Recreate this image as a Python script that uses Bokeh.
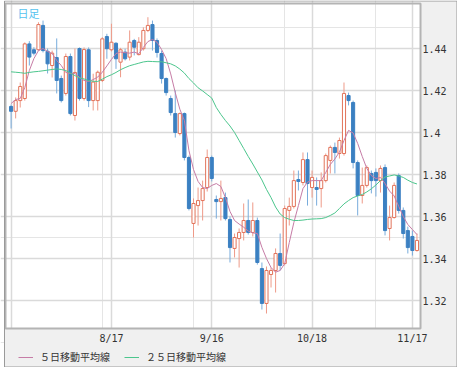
from bokeh.plotting import figure
from bokeh.models import (ColumnDataSource, FixedTicker, Legend, LegendItem, Label,
                          BoxAnnotation, Grid)
from bokeh.core.properties import value
from bokeh.embed import file_html
from bokeh.resources import INLINE

# Daily candles (EUR/USD style), one per trading day
opens = [1.4124, 1.4101, 1.4152, 1.4162, 1.4422, 1.4394, 1.4394, 1.4510, 1.4387, 1.4319,
         1.4357, 1.4257, 1.4186, 1.4362, 1.4081, 1.4400, 1.4162, 1.4394, 1.4152, 1.4152,
         1.4248, 1.4457, 1.4394, 1.4425, 1.4335, 1.4383, 1.4359, 1.4438, 1.4371, 1.4399,
         1.4486, 1.4514, 1.4438, 1.4376, 1.4257, 1.4162, 1.4090, 1.3995, 1.4090, 1.3881,
         1.3567, 1.3652, 1.3676, 1.3738, 1.3881, 1.3681, 1.3671, 1.3690, 1.3586, 1.3448,
         1.3495, 1.3524, 1.3581, 1.3524, 1.3581, 1.3352, 1.3186, 1.3324, 1.3343, 1.3424,
         1.3376, 1.3629, 1.3648, 1.3776, 1.3762, 1.3871, 1.3738, 1.3738, 1.3733, 1.3771,
         1.3867, 1.3929, 1.3900, 1.3900, 1.4176, 1.4143, 1.3857, 1.3700, 1.3748, 1.3805,
         1.3810, 1.3771, 1.3833, 1.3543, 1.3595, 1.3795, 1.3629, 1.3533, 1.3505, 1.3438]
highs = [1.4133, 1.4167, 1.4238, 1.4429, 1.4435, 1.4406, 1.4525, 1.4533, 1.4400, 1.4390,
         1.4448, 1.4271, 1.4376, 1.4376, 1.4400, 1.4405, 1.4405, 1.4405, 1.4280, 1.4295,
         1.4454, 1.4470, 1.4518, 1.4430, 1.4403, 1.4399, 1.4486, 1.4446, 1.4454, 1.4501,
         1.4549, 1.4533, 1.4448, 1.4390, 1.4262, 1.4176, 1.4200, 1.4095, 1.4095, 1.3890,
         1.3686, 1.3738, 1.3771, 1.3919, 1.3890, 1.3700, 1.3771, 1.3714, 1.3600, 1.3519,
         1.3543, 1.3662, 1.3681, 1.3667, 1.3595, 1.3381, 1.3362, 1.3357, 1.3448, 1.3519,
         1.3652, 1.3690, 1.3819, 1.3819, 1.3905, 1.3905, 1.3819, 1.3786, 1.3810, 1.3900,
         1.3938, 1.3952, 1.3976, 1.4238, 1.4190, 1.4152, 1.3867, 1.3833, 1.3843, 1.3819,
         1.3829, 1.3843, 1.3848, 1.3652, 1.3762, 1.3805, 1.3643, 1.3552, 1.3533, 1.3519]
lows = [1.4019, 1.4067, 1.4119, 1.4152, 1.4319, 1.4367, 1.4390, 1.4381, 1.4281, 1.4262,
        1.4186, 1.4143, 1.4176, 1.4081, 1.4057, 1.4152, 1.4152, 1.4121, 1.4105, 1.4105,
        1.4240, 1.4351, 1.4386, 1.4303, 1.4263, 1.4343, 1.4343, 1.4367, 1.4367, 1.4390,
        1.4478, 1.4390, 1.4357, 1.4233, 1.4176, 1.4081, 1.3976, 1.3986, 1.3867, 1.3629,
        1.3500, 1.3557, 1.3581, 1.3719, 1.3767, 1.3590, 1.3581, 1.3581, 1.3381, 1.3405,
        1.3357, 1.3486, 1.3514, 1.3505, 1.3371, 1.3157, 1.3138, 1.3262, 1.3238, 1.3343,
        1.3367, 1.3557, 1.3638, 1.3724, 1.3748, 1.3652, 1.3690, 1.3652, 1.3643, 1.3762,
        1.3805, 1.3805, 1.3876, 1.3890, 1.4129, 1.3829, 1.3605, 1.3662, 1.3738, 1.3710,
        1.3695, 1.3714, 1.3510, 1.3486, 1.3590, 1.3614, 1.3495, 1.3424, 1.3414, 1.3433]
closes = [1.4101, 1.4152, 1.4219, 1.4422, 1.4359, 1.4378, 1.4514, 1.4390, 1.4327, 1.4378,
          1.4248, 1.4152, 1.4362, 1.4090, 1.4286, 1.4162, 1.4395, 1.4152, 1.4240, 1.4287,
          1.4446, 1.4399, 1.4430, 1.4351, 1.4394, 1.4351, 1.4430, 1.4406, 1.4430, 1.4486,
          1.4510, 1.4438, 1.4381, 1.4257, 1.4190, 1.4095, 1.4000, 1.4090, 1.3881, 1.3638,
          1.3662, 1.3676, 1.3733, 1.3881, 1.3781, 1.3671, 1.3686, 1.3590, 1.3452, 1.3500,
          1.3524, 1.3581, 1.3524, 1.3581, 1.3381, 1.3186, 1.3343, 1.3343, 1.3424, 1.3367,
          1.3638, 1.3648, 1.3771, 1.3767, 1.3871, 1.3757, 1.3786, 1.3729, 1.3771, 1.3890,
          1.3929, 1.3905, 1.3962, 1.4186, 1.4152, 1.3857, 1.3700, 1.3748, 1.3833, 1.3771,
          1.3771, 1.3829, 1.3533, 1.3595, 1.3748, 1.3629, 1.3519, 1.3452, 1.3438, 1.3486]
ma5 = [1.4138, 1.4157, 1.4162, 1.4214, 1.4295, 1.4352, 1.4390, 1.4400, 1.4386, 1.4376,
       1.4343, 1.4319, 1.4286, 1.4281, 1.4281, 1.4262, 1.4248, 1.4243, 1.4252, 1.4264,
       1.4287, 1.4317, 1.4348, 1.4376, 1.4383, 1.4380, 1.4378, 1.4383, 1.4375, 1.4405,
       1.4433, 1.4443, 1.4430, 1.4395, 1.4352, 1.4279, 1.4190, 1.4111, 1.4057, 1.3914,
       1.3824, 1.3767, 1.3738, 1.3733, 1.3748, 1.3757, 1.3743, 1.3690, 1.3624, 1.3581,
       1.3564, 1.3549, 1.3531, 1.3522, 1.3519, 1.3453, 1.3400, 1.3357, 1.3335, 1.3343,
       1.3376, 1.3476, 1.3571, 1.3652, 1.3733, 1.3764, 1.3771, 1.3771, 1.3771, 1.3810,
       1.3848, 1.3874, 1.3907, 1.3962, 1.4010, 1.3998, 1.3948, 1.3886, 1.3829, 1.3795,
       1.3781, 1.3786, 1.3757, 1.3721, 1.3698, 1.3648, 1.3600, 1.3562, 1.3538, 1.3514]
ma25 = [1.4289, 1.4287, 1.4285, 1.4282, 1.4286, 1.4289, 1.4291, 1.4294, 1.4297, 1.4300,
        1.4303, 1.4300, 1.4295, 1.4283, 1.4271, 1.4260, 1.4255, 1.4247, 1.4244, 1.4243,
        1.4254, 1.4266, 1.4275, 1.4286, 1.4299, 1.4309, 1.4318, 1.4324, 1.4330, 1.4336,
        1.4339, 1.4338, 1.4337, 1.4337, 1.4332, 1.4327, 1.4317, 1.4302, 1.4283, 1.4257,
        1.4236, 1.4213, 1.4198, 1.4181, 1.4164, 1.4119, 1.4086, 1.4057, 1.4031, 1.4000,
        1.3962, 1.3924, 1.3886, 1.3850, 1.3812, 1.3774, 1.3729, 1.3690, 1.3645, 1.3612,
        1.3595, 1.3587, 1.3581, 1.3581, 1.3583, 1.3586, 1.3588, 1.3589, 1.3590, 1.3595,
        1.3605, 1.3617, 1.3638, 1.3660, 1.3676, 1.3690, 1.3698, 1.3705, 1.3717, 1.3732,
        1.3750, 1.3771, 1.3788, 1.3793, 1.3798, 1.3793, 1.3786, 1.3773, 1.3762, 1.3755]

# x-axis: trading-day index of each tick and its label
tick_days = [0, 22, 44, 66, 88]
tick_labels = ["", "8/17", "9/16", "10/18", "11/17"]
price_ticks = [1.32, 1.34, 1.36, 1.38, 1.40, 1.42, 1.44]
price_labels = ["1.32", "1.34", "1.36", "1.38", "1.4", "1.42", "1.44"]
chart_title = "日足"
legend_labels = ["５日移動平均線", "２５日移動平均線"]

# ranges: whole canvas is the frame; plot area and side panels are drawn inside it
X0, X1 = -2.325, 97.89
Y0, Y1 = 1.28810, 1.46286
PLOT_L, PLOT_R = -1.23, 89.78
PLOT_B, PLOT_T = 1.30667, 1.46143
BOX_L, BOX_R, BOX_B, BOX_T = -1.447, 97.78, 1.28833, 1.46262
YLAB_X = 90.22
XLAB_Y = 1.30190

UP_LINE, UP_WICK = "#e2735a", "#ee9a88"
DN_FILL, DN_WICK = "#3b80c2", "#78acdc"
PANEL = "#f0f0f0"

days = list(range(len(closes)))
up = [c >= o for o, c in zip(opens, closes)]
src = ColumnDataSource(dict(
    x=days,
    top=[max(o, c) for o, c in zip(opens, closes)],
    bottom=[min(o, c) for o, c in zip(opens, closes)],
    high=highs, low=lows,
    wick=[UP_WICK if u else DN_WICK for u in up],
    fill=["#ffffff" if u else DN_FILL for u in up],
    edge=[UP_LINE if u else DN_FILL for u in up],
))

p = figure(width=457, height=367, x_range=(X0, X1), y_range=(Y0, Y1),
           x_axis_location=None, y_axis_location=None, tools="",
           output_backend="svg", toolbar_location=None, min_border=0)
p.outline_line_color = None
p.background_fill_color = "#ffffff"
p.border_fill_color = "#ffffff"

for dim, ticks in ((0, tick_days), (1, price_ticks)):
    p.add_layout(Grid(dimension=dim, ticker=FixedTicker(ticks=ticks),
                      grid_line_color="#dadada", grid_line_width=1.5))

p.segment(x0="x", y0="low", x1="x", y1="high", color="wick", line_width=1, source=src)
p.vbar(x="x", width=0.68, top="top", bottom="bottom", fill_color="fill",
       line_color="edge", line_width=1, source=src)

l5 = p.line(days, ma5, line_color="#c67ca6", line_width=1)
l25 = p.line(days, ma25, line_color="#4cc68d", line_width=1)

# grey axis panels (right and bottom), plot-area border, outer border
p.add_layout(BoxAnnotation(left=PLOT_R, right=BOX_R, top=BOX_T, bottom=BOX_B,
                           fill_color=PANEL, fill_alpha=1, line_alpha=0))
p.add_layout(BoxAnnotation(left=BOX_L, right=BOX_R, top=PLOT_B, bottom=BOX_B,
                           fill_color=PANEL, fill_alpha=1, line_alpha=0))
p.add_layout(BoxAnnotation(left=BOX_L, right=PLOT_L, top=BOX_T, bottom=BOX_B,
                           fill_color=PANEL, fill_alpha=1, line_alpha=0))
p.add_layout(BoxAnnotation(left=PLOT_L, right=PLOT_R, top=PLOT_T, bottom=PLOT_B,
                           fill_alpha=0, line_color="#b4b4b4", line_width=2, line_alpha=1))
p.add_layout(BoxAnnotation(left=BOX_L, right=BOX_R, top=BOX_T, bottom=BOX_B,
                           fill_alpha=0, line_color="#9a9a9a", line_width=1, line_alpha=1))

# tick labels drawn from the tick arrays
ylab = ColumnDataSource(dict(x=[YLAB_X] * len(price_ticks), y=price_ticks, text=price_labels))
p.text(x="x", y="y", text="text", source=ylab, text_font=value("DejaVu Sans Mono"),
       text_font_size=value("10px"), text_color="#333333", text_align="left",
       text_baseline="middle", level="overlay")
xt = [(d, t) for d, t in zip(tick_days, tick_labels) if t]
xlab = ColumnDataSource(dict(x=[d for d, _ in xt], y=[XLAB_Y] * len(xt), text=[t for _, t in xt]))
p.text(x="x", y="y", text="text", source=xlab, text_font=value("DejaVu Sans Mono"),
       text_font_size=value("10px"), text_color="#333333", text_align="center",
       text_baseline="middle", level="overlay")

p.add_layout(Label(x=1.4, y=1.4605, text=chart_title, text_baseline="top",
                   text_font="Noto Sans CJK JP", text_font_size="11px",
                   text_color="#55c3ef"))

legend = Legend(items=[LegendItem(label=legend_labels[0], renderers=[l5]),
                       LegendItem(label=legend_labels[1], renderers=[l25])],
                orientation="horizontal", location=(18, 3))
legend.label_text_font = "Noto Sans CJK JP"
legend.label_text_font_size = "10px"
legend.label_text_color = "#333333"
legend.label_height = 12
legend.glyph_width = 15
legend.glyph_height = 10
legend.label_standoff = 7
legend.spacing = 14
legend.padding = 0
legend.margin = 0
legend.border_line_color = None
legend.background_fill_alpha = 0
p.add_layout(legend)

open("out.html", "w").write(file_html(p, INLINE))
